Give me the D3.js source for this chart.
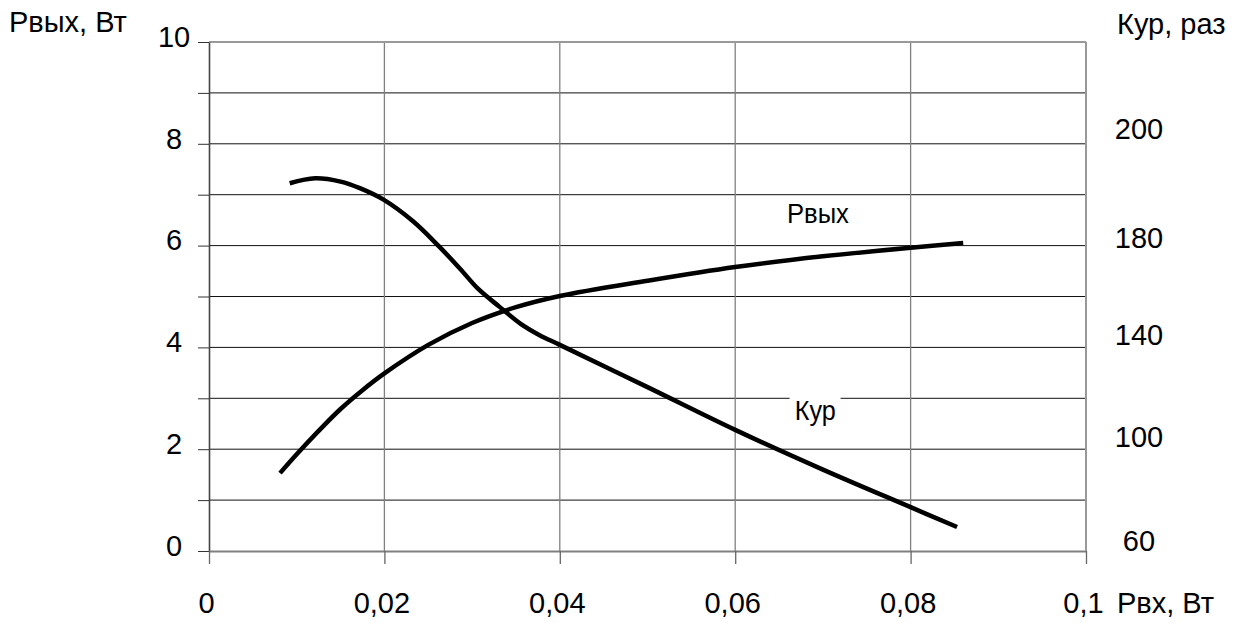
<!DOCTYPE html>
<html>
<head>
  <meta charset="utf-8"/>
  <style>
    body { margin: 0; background: #fff; }
    svg { display: block; font-family: "Liberation Sans", Arial, sans-serif; }
  </style>
</head>
<body>
  <div id="chart"></div>
  <script src="https://d3js.org/d3.v7.min.js"></script>
  <script>
    // Рвх, Вт  ->  Рвых, Вт
    let pinOut = [0.0081, 0.01, 0.0125, 0.015, 0.0175, 0.02, 0.025, 0.03, 0.035, 0.04, 0.05, 0.06, 0.07, 0.08, 0.086];
    let pout   = [1.53, 1.9, 2.36, 2.79, 3.16, 3.49, 4.05, 4.48, 4.79, 5.01, 5.31, 5.58, 5.79, 5.96, 6.05];
    // Рвх, Вт  ->  Кур, раз
    let pinK = [0.0092, 0.0121, 0.015, 0.0172, 0.0199, 0.0233, 0.0262, 0.0286, 0.0307, 0.0331, 0.0355, 0.0377, 0.04, 0.05, 0.06, 0.07, 0.08, 0.0853];
    let kup  = [190, 190.9, 190.3, 189.1, 187, 183, 176.6, 167.4, 158.9, 151.6, 144.6, 139.8, 136, 119.4, 102.6, 87.3, 72.9, 65.3];

    let xTicks = [0, 0.02, 0.04, 0.06, 0.08, 0.1];
    let xLabels = ['0', '0,02', '0,04', '0,06', '0,08', '0,1'];
    let yTicks = [0, 2, 4, 6, 8, 10];
    let kTicks = [60, 100, 140, 180, 200];
    // right-hand labels are not evenly spaced; this is where they sit on the left scale
    let kTickPos = [0.2, 2.25, 4.25, 6.15, 8.3];

    let width = 1237,
        height = 623,
        margin = {'left': 209, 'right': 151, 'top': 42, 'bottom': 72},
        fontSize = 29;

    let svg = d3.select('#chart')
        .append('svg')
        .attr('width', width)
        .attr('height', height);

    svg.append('rect').attr('width', width).attr('height', height).attr('fill', '#fff');

    let x = d3.scaleLinear().domain([0, 0.1]).range([margin.left, width - margin.right]);
    let y = d3.scaleLinear().domain([0, 10]).range([height - margin.bottom, margin.top]);
    // piecewise scale for Кур, following the hand-placed labels
    let k = d3.scaleLinear().domain(kTicks).range(kTickPos.map(y));

    // horizontal grid, every 1 W
    svg.append('g')
        .selectAll('line')
        .data(d3.range(1, 10))
        .enter()
        .append('line')
        .attr('x1', x(0)).attr('x2', x(0.1))
        .attr('y1', d => y(d)).attr('y2', d => y(d))
        .attr('stroke', '#111')
        .attr('stroke-width', 1);

    // vertical grid
    svg.append('g')
        .selectAll('line')
        .data(xTicks.slice(1))
        .enter()
        .append('line')
        .attr('x1', d => x(d)).attr('x2', d => x(d))
        .attr('y1', y(0)).attr('y2', y(10))
        .attr('stroke', '#808080')
        .attr('stroke-width', 1.3);

    // top border
    svg.append('line')
        .attr('x1', x(0)).attr('x2', x(0.1))
        .attr('y1', y(10)).attr('y2', y(10))
        .attr('stroke', '#999').attr('stroke-width', 2);

    // left axis
    let yAxis = svg.append('g')
        .attr('transform', 'translate(' + x(0) + ',0)')
        .call(d3.axisLeft(y)
            .tickValues(d3.range(0, 11))
            .tickSize(11)
            .tickSizeOuter(0)
            .tickFormat(d => yTicks.includes(d) ? d : ''));
    yAxis.select('.domain').attr('stroke', '#444').attr('stroke-width', 1.6);
    yAxis.selectAll('.tick line').attr('stroke', '#333');
    yAxis.selectAll('.tick text')
        .attr('text-anchor', 'middle')
        .attr('x', -35)
        .attr('y', -5)
        .attr('font-size', fontSize)
        .attr('font-family', '"Liberation Sans", Arial, sans-serif')
        .attr('fill', '#000');

    // bottom axis
    let xAxis = svg.append('g')
        .attr('transform', 'translate(0,' + y(0) + ')')
        .call(d3.axisBottom(x)
            .tickValues(xTicks)
            .tickSize(13)
            .tickSizeOuter(0)
            .tickFormat((d, i) => xLabels[i]));
    xAxis.select('.domain').attr('stroke', '#808080').attr('stroke-width', 2.2);
    xAxis.selectAll('.tick line').attr('stroke', '#666').attr('stroke-width', 1.3);
    xAxis.selectAll('.tick text')
        .attr('x', -3)
        .attr('y', 62)
        .attr('dy', 0)
        .attr('font-size', fontSize)
        .attr('font-family', '"Liberation Sans", Arial, sans-serif')
        .attr('fill', '#000');

    // right border
    svg.append('line')
        .attr('x1', x(0.1)).attr('x2', x(0.1))
        .attr('y1', y(0)).attr('y2', y(10))
        .attr('stroke', '#999').attr('stroke-width', 2);

    // right labels
    svg.append('g')
        .selectAll('text')
        .data(kTicks)
        .enter()
        .append('text')
        .attr('x', x(0.1) + 53)
        .attr('y', d => k(d))
        .attr('dy', '0.35em')
        .attr('text-anchor', 'middle')
        .attr('font-size', fontSize)
        .text(d => d);

    // curves
    let outLine = d3.line()
        .x((d, i) => x(pinOut[i]))
        .y(d => y(d))
        .curve(d3.curveCatmullRom);
    let kLine = d3.line()
        .x((d, i) => x(pinK[i]))
        .y(d => k(d))
        .curve(d3.curveCatmullRom);

    svg.append('path')
        .attr('d', outLine(pout))
        .attr('fill', 'none')
        .attr('stroke', '#000')
        .attr('stroke-width', 4.5);
    svg.append('path')
        .attr('d', kLine(kup))
        .attr('fill', 'none')
        .attr('stroke', '#000')
        .attr('stroke-width', 4.5);

    // curve labels
    svg.append('text')
        .attr('x', x(0.0659))
        .attr('y', y(6.44))
        .attr('font-size', 27)
        .attr('textLength', 62)
        .attr('lengthAdjust', 'spacingAndGlyphs')
        .text('Рвых');

    svg.append('rect')
        .attr('x', x(0.0662))
        .attr('y', y(3.1))
        .attr('width', 51)
        .attr('height', 36)
        .attr('fill', '#fff');
    svg.append('text')
        .attr('x', x(0.0668))
        .attr('y', y(2.57))
        .attr('font-size', 27)
        .attr('textLength', 41)
        .attr('lengthAdjust', 'spacingAndGlyphs')
        .text('Кур');

    // axis titles
    svg.append('text').attr('x', 9).attr('y', 32).attr('font-size', fontSize).text('Рвых, Вт');
    svg.append('text').attr('x', 1117).attr('y', 34).attr('font-size', fontSize).text('Кур, раз');
    svg.append('text').attr('x', 1117).attr('y', 613).attr('font-size', fontSize).text('Рвх, Вт');
  </script>
</body>
</html>
